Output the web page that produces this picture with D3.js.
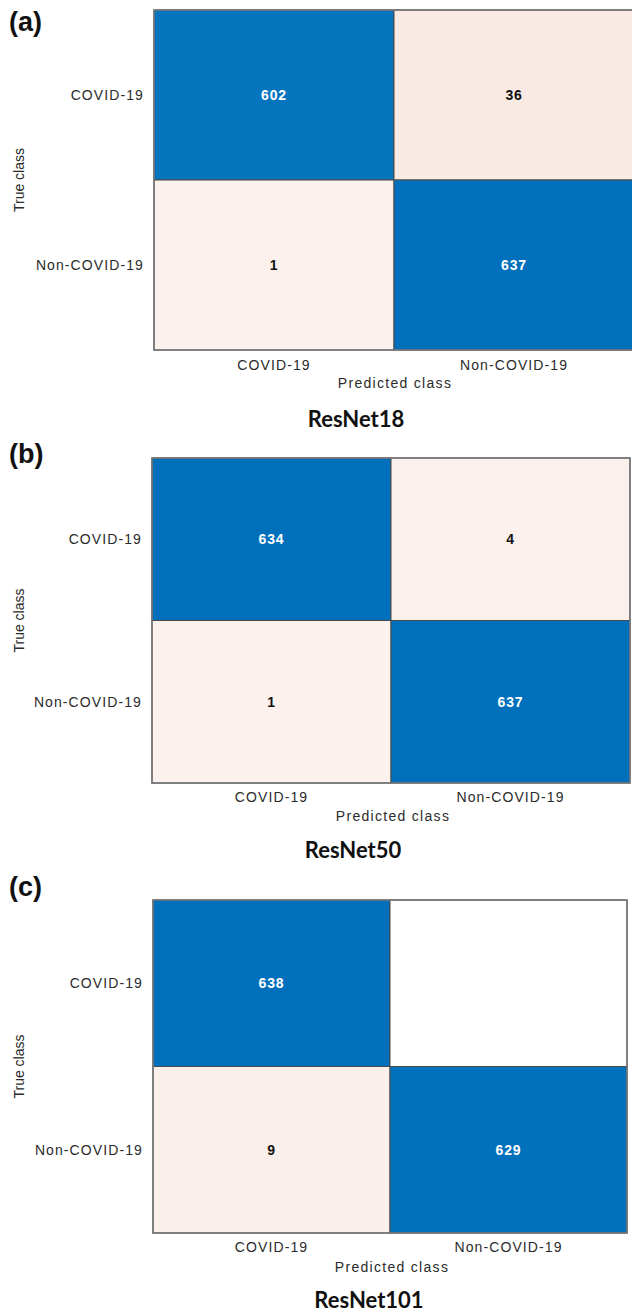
<!DOCTYPE html>
<html>
<head>
<meta charset="utf-8">
<script src="https://cdn.jsdelivr.net/npm/d3@7"></script>
<style>
  html, body { margin: 0; padding: 0; background: #fff; }
  svg { display: block; }
</style>
</head>
<body>
<script>
// Class names shared by all three confusion matrices
const classes = ["COVID-19", "Non-COVID-19"];

// Model names and panel tags
const models = ["ResNet18", "ResNet50", "ResNet101"];
const tags = ["(a)", "(b)", "(c)"];

// Confusion matrices: rows = true class, columns = predicted class
const resnet18 = [[602, 36], [1, 637]];
const resnet50 = [[634, 4], [1, 637]];
const resnet101 = [[638, 0], [9, 629]];
const matrices = [resnet18, resnet50, resnet101];

// Axis titles
const xTitle = "Predicted class";
const yTitle = "True class";

// Page geometry for each panel (pixels)
const layout = [
  { left: 154, right: 634, top: 10,  bottom: 350,  tagY: 31,  tickY: 370,  xTitleY: 388,  titleY: 427,  titleX: 356 },
  { left: 152, right: 630, top: 458, bottom: 783,  tagY: 463, tickY: 802,  xTitleY: 821,  titleY: 858,  titleX: 353 },
  { left: 153, right: 627, top: 900, bottom: 1233, tagY: 896, tickY: 1252, xTitleY: 1272, titleY: 1308, titleX: 369 }
];

const W = 632, H = 1312;
const svg = d3.select("body").append("svg")
  .attr("width", W).attr("height", H)
  .attr("viewBox", `0 0 ${W} ${H}`);

const labelFont = "'Liberation Sans', Arial, sans-serif";
const textColor = "#2b2b2b";

// Diagonal cells: blue, deepening slightly with the count
const maxCount = d3.max(matrices.flat(2));
const blue = d3.scaleLinear().domain([0, maxCount]).range(["#7fb3dc", "#0070bc"]).interpolate(d3.interpolateRgb);
// Off-diagonal cells: very pale warm tint, white when empty
const warm = d3.scaleLinear().domain([0, 1, 40]).range(["#ffffff", "#fcf1ed", "#f9e9e3"]).clamp(true);

matrices.forEach((m, p) => {
  const L = layout[p];
  const g = svg.append("g");

  const x = d3.scaleBand().domain(classes).range([L.left, L.right]);
  const y = d3.scaleBand().domain(classes).range([L.top, L.bottom]);

  const cells = [];
  classes.forEach((tc, i) => classes.forEach((pc, j) => {
    cells.push({ trueClass: tc, predClass: pc, value: m[i][j], diag: i === j });
  }));

  // Cells
  g.selectAll("rect.cell").data(cells).join("rect")
    .attr("class", "cell")
    .attr("x", d => x(d.predClass))
    .attr("y", d => y(d.trueClass))
    .attr("width", x.bandwidth())
    .attr("height", y.bandwidth())
    .attr("fill", d => d.diag ? blue(d.value) : warm(d.value))
    .attr("stroke", "#4a4a4a")
    .attr("stroke-width", 1);

  // Outer frame
  g.append("rect")
    .attr("x", L.left).attr("y", L.top)
    .attr("width", L.right - L.left).attr("height", L.bottom - L.top)
    .attr("fill", "none").attr("stroke", "#777").attr("stroke-width", 1.6);

  // Cell counts (empty cells left blank)
  g.selectAll("text.val").data(cells.filter(d => d.value > 0)).join("text")
    .attr("class", "val")
    .attr("x", d => x(d.predClass) + x.bandwidth() / 2)
    .attr("y", d => y(d.trueClass) + y.bandwidth() / 2)
    .attr("dy", "0.36em")
    .attr("text-anchor", "middle")
    .attr("font-family", labelFont)
    .attr("font-size", 14)
    .attr("font-weight", "bold")
    .attr("letter-spacing", 0.8)
    .attr("fill", d => d.diag ? "#ffffff" : "#111")
    .text(d => d.value);

  // Row labels (true class)
  g.selectAll("text.row").data(classes).join("text")
    .attr("class", "row")
    .attr("x", L.left - 10)
    .attr("y", d => y(d) + y.bandwidth() / 2)
    .attr("dy", "0.36em")
    .attr("text-anchor", "end")
    .attr("font-family", labelFont)
    .attr("font-size", 14)
    .attr("letter-spacing", 1.1)
    .attr("fill", textColor)
    .text(d => d);

  // Column labels (predicted class)
  g.selectAll("text.col").data(classes).join("text")
    .attr("class", "col")
    .attr("x", d => x(d) + x.bandwidth() / 2)
    .attr("y", L.tickY)
    .attr("text-anchor", "middle")
    .attr("font-family", labelFont)
    .attr("font-size", 14)
    .attr("letter-spacing", 1.1)
    .attr("fill", textColor)
    .text(d => d);

  // Axis titles
  g.append("text")
    .attr("x", (L.left + Math.min(L.right, W)) / 2 + 2)
    .attr("y", L.xTitleY)
    .attr("text-anchor", "middle")
    .attr("font-family", labelFont)
    .attr("font-size", 14)
    .attr("letter-spacing", 1.3)
    .attr("fill", textColor)
    .text(xTitle);

  g.append("text")
    .attr("transform", `translate(${24},${(L.top + L.bottom) / 2}) rotate(-90)`)
    .attr("text-anchor", "middle")
    .attr("font-family", labelFont)
    .attr("font-size", 14)
    .attr("fill", textColor)
    .text(yTitle);

  // Model name beneath the panel
  g.append("text")
    .attr("x", L.titleX)
    .attr("y", L.titleY)
    .attr("text-anchor", "middle")
    .attr("font-family", "Lato, 'Open Sans', sans-serif")
    .attr("font-size", 22)
    .attr("font-weight", "bold")
    .attr("fill", "#111")
    .text(models[p]);

  // Panel tag
  g.append("text")
    .attr("x", 9)
    .attr("y", L.tagY)
    .attr("font-family", labelFont)
    .attr("font-size", 27)
    .attr("font-weight", "bold")
    .attr("fill", "#111")
    .text(tags[p]);
});
</script>
</body>
</html>
